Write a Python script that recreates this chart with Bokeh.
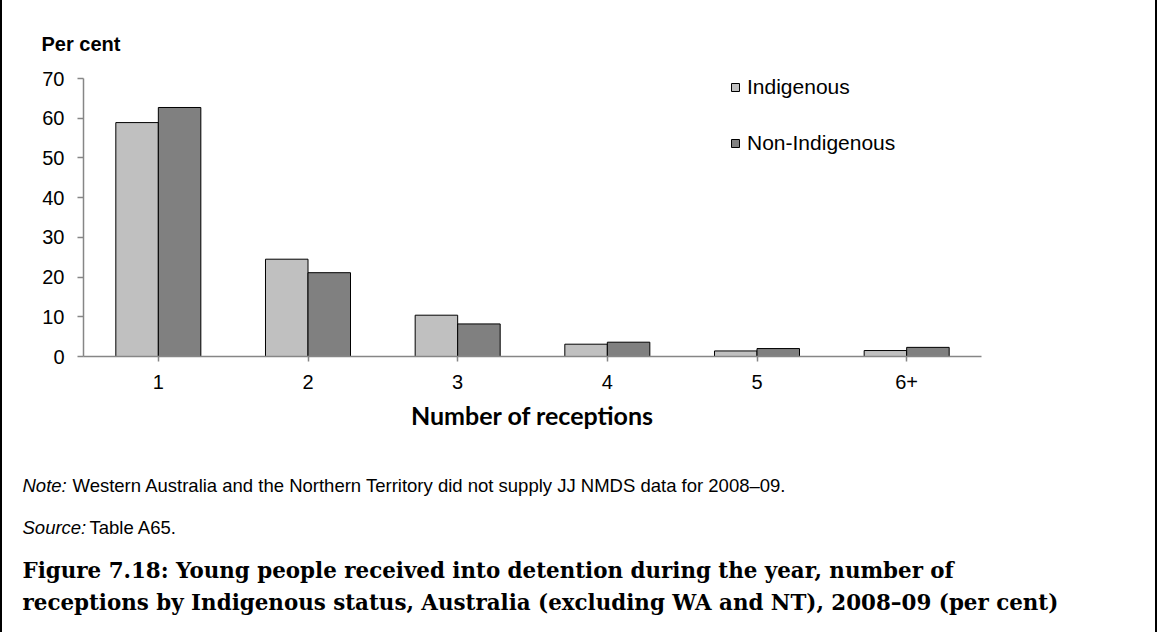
from bokeh.plotting import figure
from bokeh.layouts import column
from bokeh.models import (FactorRange, ColumnDataSource, Label, Legend, LegendItem,
                          FixedTicker, Range1d)
from bokeh.transform import dodge
from bokeh.embed import file_html
from bokeh.resources import INLINE

# ---------------- data ----------------
categories = ["1", "2", "3", "4", "5", "6+"]
indigenous = [58.9, 24.5, 10.4, 3.1, 1.4, 1.5]
non_indigenous = [62.7, 21.1, 8.2, 3.6, 2.0, 2.3]
series_names = ["Indigenous", "Non-Indigenous"]
y_ticks = [0, 10, 20, 30, 40, 50, 60, 70]

y_title = "Per cent"
x_title = "Number of receptions"
note_lead = "Note:"
note_text = "Western Australia and the Northern Territory did not supply JJ NMDS data for 2008\u201309."
source_lead = "Source:"
source_text = "Table A65."
fig_title_1 = "Figure 7.18: Young people received into detention during the year, number of"
fig_title_2 = "receptions by Indigenous status, Australia (excluding WA and NT), 2008\u201309 (per cent)"

SANS = "Liberation Sans"
SERIF = "DejaVu Serif"
W = 1153
TOTAL_W = 1157


def no_align(f):
    if "frame_align" in f.properties():
        f.frame_align = False


def text_fig(h):
    f = figure(width=W, height=h, x_range=Range1d(0, W), y_range=Range1d(h, 0),
               x_axis_type=None, y_axis_type=None, output_backend="svg",
               toolbar_location=None, min_border=0)
    f.outline_line_color = None
    f.background_fill_color = "white"
    f.border_fill_color = "white"
    no_align(f)
    return f


def lab(f, x, y, text, font=SANS, size="18.5px", style="normal"):
    f.add_layout(Label(x=x, y=y, text=text, text_font=font, text_font_size=size,
                       text_font_style=style, text_align="left",
                       text_baseline="middle", text_color="black"))


# ---------------- top strip: y-axis title ----------------
top = text_fig(60)
lab(top, 39, 43, y_title, size="20px", style="bold")

# ---------------- chart ----------------
source = ColumnDataSource(dict(cat=categories, ind=indigenous, non=non_indigenous))

p = figure(x_range=FactorRange(factors=categories, range_padding=0, factor_padding=0),
           y_range=(0, 70), width=W, height=380,
           output_backend="svg", toolbar_location=None,
           min_border_left=81, min_border_right=174,
           min_border_top=18, min_border_bottom=84)
no_align(p)
p.outline_line_color = None
p.xgrid.visible = False
p.ygrid.visible = False
p.background_fill_color = "white"
p.border_fill_color = "white"

bw = 0.284
r1 = p.vbar(x=dodge("cat", -bw / 2, range=p.x_range), top="ind", width=bw, source=source,
            fill_color="#C0C0C0", line_color="black", line_width=1)
r2 = p.vbar(x=dodge("cat", bw / 2, range=p.x_range), top="non", width=bw, source=source,
            fill_color="#808080", line_color="black", line_width=1)

axis_color = "#868686"
for ax in (p.xaxis[0], p.yaxis[0]):
    ax.axis_line_color = axis_color
    ax.axis_line_width = 1.5
    ax.major_tick_line_color = axis_color
    ax.major_tick_line_width = 1.5
    ax.minor_tick_line_color = None
    ax.major_tick_in = 0
    ax.major_label_text_font = SANS
    ax.major_label_text_font_size = "20px"
    ax.major_label_text_color = "black"

p.yaxis[0].ticker = FixedTicker(ticks=y_ticks)
p.yaxis[0].major_tick_out = 6
p.yaxis[0].major_label_standoff = 13
p.xaxis[0].major_tick_out = 5
p.xaxis[0].major_label_standoff = 13
p.xaxis[0].axis_label = x_title
p.xaxis[0].axis_label_text_font = "Lato"
p.xaxis[0].axis_label_text_font_style = "bold"
p.xaxis[0].axis_label_text_font_size = "25px"
p.xaxis[0].axis_label_text_color = "black"
p.xaxis[0].axis_label_standoff = 8

legend = Legend(items=[LegendItem(label=series_names[0], renderers=[r1]),
                       LegendItem(label=series_names[1], renderers=[r2])],
                location=(647, 201), orientation="vertical",
                glyph_width=10, glyph_height=10, label_height=24,
                spacing=32, label_standoff=7, padding=0, margin=0,
                border_line_color=None, background_fill_alpha=0,
                label_text_font=SANS, label_text_font_size="21px", label_text_color="black")
p.add_layout(legend)

# ---------------- notes and figure caption ----------------
bottom = text_fig(192)
lab(bottom, 20, 45.4, note_lead, style="italic")
lab(bottom, 70, 45.4, note_text)
lab(bottom, 20, 86.7, source_lead, style="italic")
lab(bottom, 87, 86.7, source_text)
lab(bottom, 20, 129.5, fig_title_1, font=SERIF, size="21.4px", style="bold")
lab(bottom, 20, 161.5, fig_title_2, font=SERIF, size="21.4px", style="bold")

layout = column(top, p, bottom, spacing=0, width=TOTAL_W,
                styles={"border-left": "2px solid black", "border-right": "2px solid black",
                        "min-width": f"{TOTAL_W}px"})

open("out.html", "w").write(file_html(layout, INLINE))
